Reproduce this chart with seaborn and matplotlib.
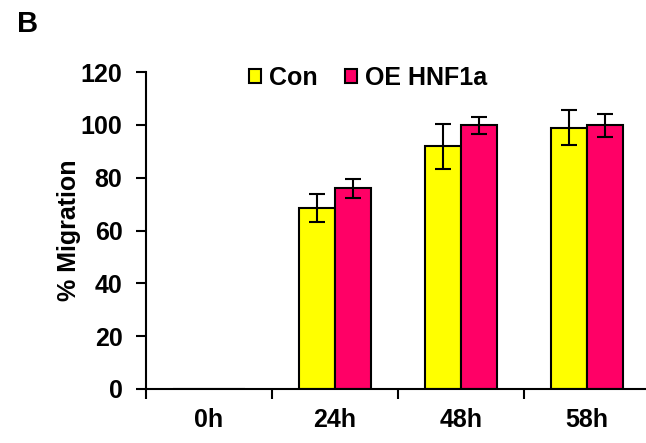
import numpy as np
import pandas as pd
import matplotlib
matplotlib.use("Agg")
import matplotlib.pyplot as plt
import seaborn as sns
from matplotlib.patches import Patch

# -----------------------------
# Data
# -----------------------------
times = ["0h", "24h", "48h", "58h"]
groups = ["Con", "OE HNF1a"]
con_mean = [0, 68.4, 91.8, 98.9]
con_err = [0, 5.3, 8.4, 6.6]
oe_mean = [0, 75.9, 99.9, 99.8]
oe_err = [0, 3.6, 3.2, 4.4]

colors = ["#FFFF00", "#FF0066"]

df = pd.DataFrame({
    "time": times * 2,
    "group": [groups[0]] * 4 + [groups[1]] * 4,
    "value": con_mean + oe_mean,
    "err": con_err + oe_err,
})

# -----------------------------
# Style
# -----------------------------
sns.set_style("ticks")
plt.rcParams["font.family"] = ["Liberation Sans", "DejaVu Sans"]
plt.rcParams["font.weight"] = "bold"
plt.rcParams["text.color"] = "black"
plt.rcParams["axes.labelcolor"] = "black"
plt.rcParams["xtick.color"] = "black"
plt.rcParams["ytick.color"] = "black"
plt.rcParams["axes.edgecolor"] = "black"
FONT = 18

fig = plt.figure(figsize=(6.46, 4.43), dpi=100)
ax = fig.add_axes([146 / 646, 54 / 443, 504 / 646, 317 / 443])

sns.barplot(data=df, x="time", y="value", hue="group", order=times,
            hue_order=groups, palette=colors, saturation=1, width=0.57,
            errorbar=None, edgecolor="black", linewidth=1.5, legend=False, ax=ax)

# error bars on top of each bar
n = len(times)
for i, patch in enumerate(ax.patches[:2 * n]):
    g = i // n
    t = i % n
    mean = [con_mean, oe_mean][g][t]
    err = [con_err, oe_err][g][t]
    if err == 0:
        continue
    xc = patch.get_x() + patch.get_width() / 2
    ax.errorbar(xc, mean, yerr=err, fmt="none", ecolor="black",
                elinewidth=1.5, capsize=5.5, capthick=1.5)

ax.set_xlim(-0.5, 3.5)
ax.set_ylim(0, 120)
ax.set_yticks(range(0, 121, 20))
ax.set_xticks(range(n))
ax.set_xticklabels(times)
ax.set_xticks(np.arange(-0.5, 3.0, 1.0), minor=True)
ax.tick_params(axis="x", which="major", length=0, pad=14, labelsize=FONT)
ax.tick_params(axis="x", which="minor", length=7, width=1.5, direction="out")
ax.tick_params(axis="y", length=7, width=1.5, direction="out", labelsize=FONT, pad=10)
for lab in ax.get_xticklabels() + ax.get_yticklabels():
    lab.set_fontweight("bold")

ax.spines["top"].set_visible(False)
ax.spines["right"].set_visible(False)
ax.spines["left"].set_linewidth(1.5)
ax.spines["bottom"].set_linewidth(1.5)
ax.set_xlabel("")
ax.set_ylabel("% Migration", fontsize=FONT, fontweight="bold", labelpad=0)

handles = [Patch(facecolor=c, edgecolor="black", linewidth=1.5) for c in colors]
ax.legend(handles, groups, loc="upper center", bbox_to_anchor=(0.44, 1.09),
          ncol=2, frameon=False, handlelength=0.5,
          handleheight=0.5, handletextpad=0.3, columnspacing=1.1,
          prop={"weight": "bold", "size": FONT})

fig.text(17 / 646, 1 - 32 / 443, "B", fontsize=21, fontweight="bold")

plt.savefig("out.png", dpi=100)
